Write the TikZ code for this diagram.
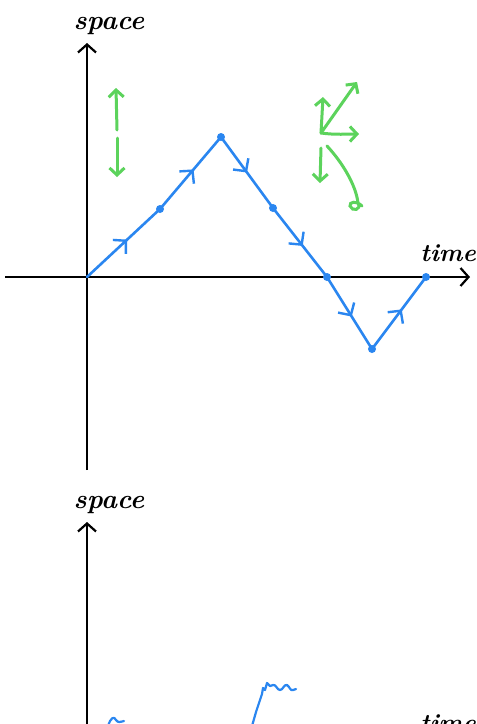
\documentclass[tikz,border=0pt]{standalone}
\usetikzlibrary{arrows.meta,decorations.markings}
\definecolor{pathblue}{HTML}{2A86F0}
\definecolor{vgreen}{HTML}{5CD35C}
\tikzset{
  axis/.style={line width=2.2pt, black, -{Straight Barb[length=8pt,width=18pt,line width=2.2pt]}},
  bluepath/.style={line width=2.6pt, pathblue, line cap=round, line join=round},
  dotmark/.style={circle, fill=pathblue, inner sep=0pt, minimum size=8pt},
  midarrow/.style={postaction={decorate, decoration={markings,
      mark=at position #1 with {\arrow[pathblue, line width=2.4pt]{Straight Barb[length=9pt,width=19pt]}}}}},
  garrow/.style={line width=3pt, vgreen, line cap=round, -{Straight Barb[length=7pt,width=15pt,line width=3pt]}},
  gline/.style={line width=3pt, vgreen, line cap=round},
  hand/.style={font=\fontsize{27}{27}\selectfont\bfseries\itshape, inner sep=0pt, black},
  handt/.style={font=\fontsize{25}{25}\selectfont\bfseries\itshape, inner sep=0pt, black},
}
\begin{document}
\begin{tikzpicture}[x=1pt,y=-1pt]
\useasboundingbox (0,0) rectangle (477,724);
\clip (0,0) rectangle (477,724);
\fill[white] (0,0) rectangle (477,724);

% ---------- top plot ----------
\coordinate (yb) at (87,470);
\coordinate (yt) at (87,43);
\coordinate (xl) at (5,277);
\coordinate (xr) at (470,277);
\draw[axis] (yb) -- (yt);
\draw[axis] (xl) -- (xr);
\node[hand, anchor=base] (space1) at (109,29) {space};
\node[handt, anchor=base east] (time1) at (476,261) {time};

\coordinate (p0) at (87,277);
\coordinate (p1) at (160,209);
\coordinate (p2) at (221,137);
\coordinate (p3) at (273,208);
\coordinate (p4) at (327,277);
\coordinate (p5) at (372,349);
\coordinate (p6) at (426,277);
\draw[bluepath, midarrow=0.55] (p0) -- (p1);
\draw[bluepath, midarrow=0.55] (p1) -- (p2);
\draw[bluepath, midarrow=0.5] (p2) -- (p3);
\draw[bluepath, midarrow=0.55] (p3) -- (p4);
\draw[bluepath, midarrow=0.55] (p4) -- (p5);
\draw[bluepath, midarrow=0.55] (p5) -- (p6);
\foreach \p in {p1,p2,p3,p4,p5,p6} \node[dotmark] at (\p) {};

% green: left double arrow
\coordinate (ga0) at (117,130);
\coordinate (ga1) at (116,88);
\coordinate (gb0) at (117,138);
\coordinate (gb1) at (117,177);
\draw[garrow] (ga0) -- (ga1);
\draw[garrow] (gb0) -- (gb1);

% green: right fan
\coordinate (gc) at (321,133);
\coordinate (gup) at (323,97);
\coordinate (gur) at (357,82);
\coordinate (grt) at (359,134);
\coordinate (gd0) at (321,148);
\coordinate (gdn) at (320,183);
\coordinate (glr0) at (327,146);
\coordinate (glr) at (358,203);
\draw[garrow] (gc) -- (gup);
\draw[garrow] (gc) -- (gur);
\draw[garrow] (gc) .. controls (335,135) and (348,134) .. (grt);
\draw[garrow] (gd0) -- (gdn);
\draw[gline] (glr0) .. controls (342,162) and (356,185) .. (glr)
  .. controls (362,210) and (352,212) .. (350,206) .. controls (349,202) and (356,200) .. (362,206);

% ---------- bottom plot ----------
\coordinate (yb2) at (87,730);
\coordinate (yt2) at (87,522);
\draw[axis] (yb2) -- (yt2);
\node[hand, anchor=base] (space2) at (109,508) {space};
\node[handt, anchor=base east] (time2) at (476,731) {time};

\coordinate (s0) at (108,726);
\draw[bluepath, line width=2.2pt] (s0) .. controls (111,717) and (114,716) .. (116,720)
  .. controls (118,723) and (120,722) .. (124,721);
\coordinate (m0) at (252,726);
\draw[bluepath, line width=2.2pt] (m0) -- (256,712) -- (258,706) -- (260,700) -- (262,694)
  -- (263,688) -- (265,690) -- (267,683) -- (270,686) -- (273,685)
  .. controls (276,684) and (277,690) .. (280,690)
  .. controls (283,690) and (284,684) .. (287,685)
  .. controls (290,687) and (290,691) .. (293,690) -- (296,689);
\end{tikzpicture}
\end{document}
